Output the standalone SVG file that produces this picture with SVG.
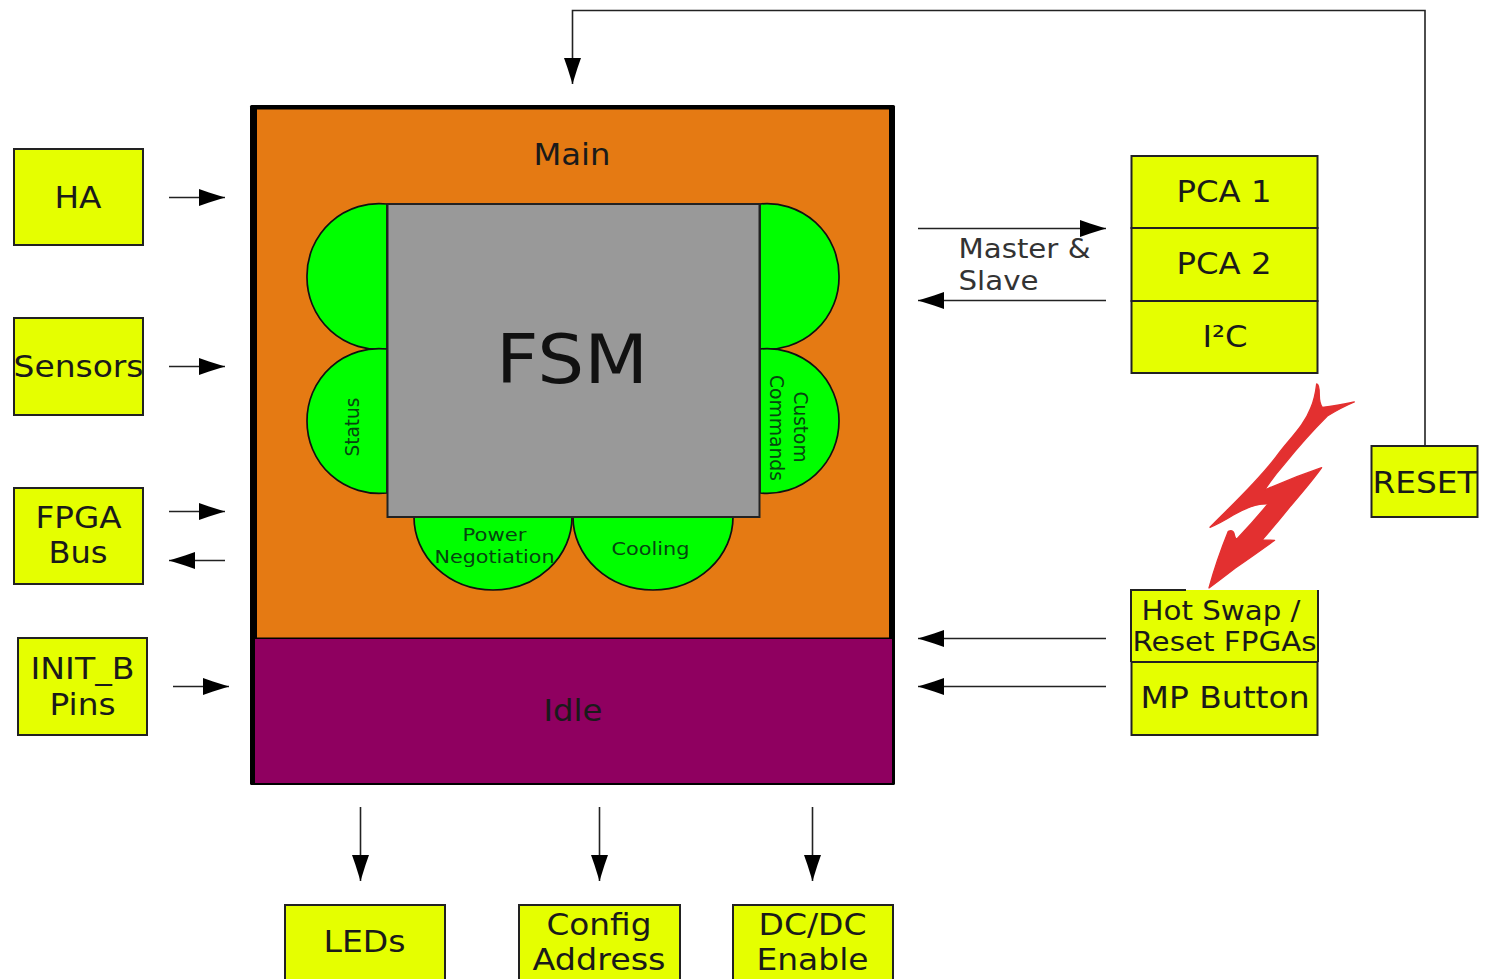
<svg xmlns="http://www.w3.org/2000/svg" width="1486" height="979" viewBox="0 0 1486 979">
<style>
text{font-family:"DejaVu Sans",sans-serif;fill:#1a1a1a;text-anchor:middle}
.b{fill:#e5ff00;stroke:#222;stroke-width:2}
.l{font-size:30px}
.m{font-size:26px}
.s{font-size:18.500px;fill:#064410}
.r{font-size:20px;fill:#064410}
.g{fill:#00ff00;stroke:#111;stroke-width:1.700}
.c{fill:none;stroke:#222;stroke-width:1.600}
.a{fill:none;stroke:#222;stroke-width:1.600;marker-end:url(#ah)}
</style>
<defs>
<marker id="ah" markerUnits="userSpaceOnUse" markerWidth="28" markerHeight="26" refX="26" refY="13" orient="auto"><path d="M0 4.500 L10 8 L26 13 L10 18 L0 21.500Z" fill="#000"/></marker>
</defs>
<rect width="1486" height="979" fill="#fff"/>
<rect x="250" y="105" width="645" height="680" rx="1.500" fill="#000"/>
<g id="main">
<rect x="257" y="109.500" width="632" height="528" fill="#e57a13"/>
<text class="l" x="572" y="165" textLength="77" lengthAdjust="spacingAndGlyphs">Main</text>
</g>
<g id="idle">
<rect x="255" y="639" width="637" height="144" fill="#8f0060"/>
<text class="l" x="573" y="721" textLength="59" lengthAdjust="spacingAndGlyphs">Idle</text>
</g>
<g id="lobe-tl"><path class="g" d="M387 204A72 72 0 0 0 307 276A72 72 0 0 0 387 349Z"/></g>
<g id="lobe-status"><path class="g" d="M387 349A72 72 0 0 0 307 421A72 72 0 0 0 387 493Z"/><text class="r" transform="translate(359 427) rotate(-90)" textLength="59" lengthAdjust="spacingAndGlyphs">Status</text></g>
<g id="lobe-tr"><path class="g" d="M760 204A72 72 0 0 1 839 276A72 72 0 0 1 760 349Z"/></g>
<g id="lobe-custom"><path class="g" d="M760 349A72 72 0 0 1 839 421A72 72 0 0 1 760 493Z"/><text class="r" transform="translate(794 427) rotate(90)" textLength="71" lengthAdjust="spacingAndGlyphs">Custom</text><text class="r" transform="translate(770 428) rotate(90)" textLength="106" lengthAdjust="spacingAndGlyphs">Commands</text></g>
<g id="lobe-power"><path class="g" d="M414 517A79 73 0 0 0 572 517Z"/><text class="s" x="494.500" y="541" textLength="64" lengthAdjust="spacingAndGlyphs">Power</text><text class="s" x="494.500" y="563" textLength="120" lengthAdjust="spacingAndGlyphs">Negotiation</text></g>
<g id="lobe-cooling"><path class="g" d="M573 517A80 73 0 0 0 733 517Z"/><text class="s" x="650.500" y="555" textLength="78" lengthAdjust="spacingAndGlyphs">Cooling</text></g>
<g id="fsm"><rect x="387.500" y="204" width="372" height="313" fill="#999" stroke="#222" stroke-width="2"/><text x="572" y="383" font-size="68" style="fill:#111" textLength="152" lengthAdjust="spacingAndGlyphs">FSM</text></g>
<g id="ha"><rect class="b" x="14" y="149" width="129" height="96"/><text class="l" x="78" y="208" textLength="47" lengthAdjust="spacingAndGlyphs">HA</text></g>
<g id="sensors"><rect class="b" x="14" y="318" width="129" height="97"/><text class="l" x="78.500" y="377" textLength="130" lengthAdjust="spacingAndGlyphs">Sensors</text></g>
<g id="fpga"><rect class="b" x="14" y="488" width="129" height="96"/><text class="l" x="78.500" y="528" textLength="86" lengthAdjust="spacingAndGlyphs">FPGA</text><text class="l" x="78" y="563" textLength="59" lengthAdjust="spacingAndGlyphs">Bus</text></g>
<g id="init"><rect class="b" x="18" y="638" width="129" height="97"/><text class="l" x="82.500" y="679" textLength="104" lengthAdjust="spacingAndGlyphs">INIT_B</text><text class="l" x="82.500" y="715" textLength="66" lengthAdjust="spacingAndGlyphs">Pins</text></g>
<g id="pca1"><rect class="b" x="1131.500" y="156" width="186" height="72"/><text class="l" x="1224" y="202" textLength="95" lengthAdjust="spacingAndGlyphs">PCA 1</text></g>
<g id="pca2"><rect class="b" x="1131.500" y="228" width="186" height="73"/><text class="l" x="1224" y="274" textLength="95" lengthAdjust="spacingAndGlyphs">PCA 2</text></g>
<g id="i2c"><rect class="b" x="1131.500" y="301" width="186" height="72"/><text class="l" x="1225" y="347" textLength="45" lengthAdjust="spacingAndGlyphs">I²C</text></g>
<g id="reset"><rect class="b" x="1371.500" y="446" width="106" height="71"/><text class="l" x="1425" y="493" textLength="105" lengthAdjust="spacingAndGlyphs">RESET</text></g>
<g id="hotswap"><path d="M1131 590H1318V662H1131Z" fill="#e5ff00"/><path d="M1318 590V662M1131 662V590H1186" fill="none" stroke="#222" stroke-width="2"/><text class="m" x="1221" y="620" textLength="159" lengthAdjust="spacingAndGlyphs">Hot Swap /</text><text class="m" x="1224.500" y="651" textLength="184" lengthAdjust="spacingAndGlyphs">Reset FPGAs</text></g>
<g id="mp"><rect class="b" x="1131.500" y="662" width="186" height="73"/><text class="l" x="1225" y="708" textLength="169" lengthAdjust="spacingAndGlyphs">MP Button</text></g>
<g id="leds"><path class="b" d="M285 979V905H445V979"/><text class="l" x="364.500" y="952" textLength="82" lengthAdjust="spacingAndGlyphs">LEDs</text></g>
<g id="config"><path class="b" d="M519 979V905H680V979"/><text class="l" x="599" y="935" textLength="105" lengthAdjust="spacingAndGlyphs">Config</text><text class="l" x="599" y="970" textLength="133" lengthAdjust="spacingAndGlyphs">Address</text></g>
<g id="dcdc"><path class="b" d="M733 979V905H893V979"/><text class="l" x="812.500" y="935" textLength="108" lengthAdjust="spacingAndGlyphs">DC/DC</text><text class="l" x="812.500" y="970" textLength="112" lengthAdjust="spacingAndGlyphs">Enable</text></g>
<g id="master-label"><text class="m" x="1024.500" y="258" style="fill:#333" textLength="132" lengthAdjust="spacingAndGlyphs">Master &amp;</text><text class="m" x="998.500" y="290" style="fill:#333" textLength="80" lengthAdjust="spacingAndGlyphs">Slave</text></g>
<g id="connectors">
<path class="a" d="M1425 446V10.500H572.500V84"/>
<path class="a" d="M169 197.500H225"/>
<path class="a" d="M169 366.500H225"/>
<path class="a" d="M169 511.500H225"/>
<path class="a" d="M225 560.500H169"/>
<path class="a" d="M173 686.500H229"/>
<path class="a" d="M918 228.500H1106"/>
<path class="a" d="M1106 300.500H918"/>
<path class="a" d="M1106 638.500H918"/>
<path class="a" d="M1106 686.500H918"/>
<path class="a" d="M360.500 807V881"/>
<path class="a" d="M599.500 807V881"/>
<path class="a" d="M812.500 807V881"/>
</g>
<g id="bolt"><path transform="translate(1120 370) scale(.3333)" fill="#e33030" stroke="#e33030" stroke-width="4" stroke-linejoin="round" d="M590 42Q598 42 598 75Q598 100 607 112Q650 108 703 96Q665 112 622 138C580 180 535 230 495 280Q460 320 434 360Q520 322 605 293C575 335 540 375 510 410Q470 460 426 510Q450 510 464 511Q410 550 345 595Q300 630 267 654Q290 570 325 484Q338 478 342 490Q345 505 350 508Q400 455 444 402Q400 400 340 435Q300 460 270 472C330 410 420 330 480 245C520 195 555 160 572 115Q585 85 590 42Z"/></g>
</svg>
